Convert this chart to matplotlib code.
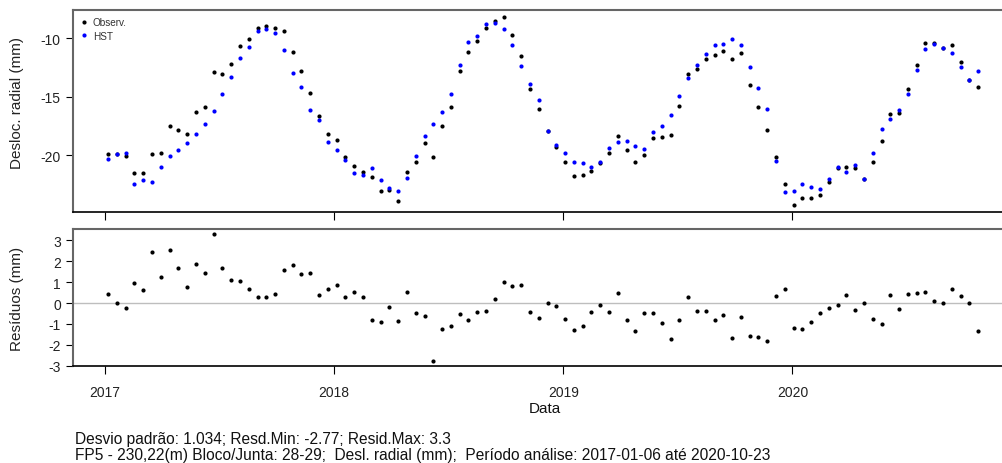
import numpy as np
import pandas as pd
import matplotlib
matplotlib.use('Agg')
from matplotlib import pyplot as plt
import matplotlib.dates as mdates

plt.rcParams['font.family'] = ['Liberation Sans', 'DejaVu Sans']
plt.rcParams['axes.unicode_minus'] = False

# biweekly readings, 2017-01-06 .. 2020-10-23
dates = pd.date_range('2017-01-06', '2020-10-23', freq='14D')

observ = [-19.86, -19.85, -20.03, -21.54, -21.54, -19.86, -19.77, -17.49, -17.83, -18.18,
          -16.32, -15.90, -12.88, -13.08, -12.22, -10.63, -10.06, -9.09, -8.92, -9.09,
          -9.37, -11.14, -12.80, -14.65, -16.60, -18.18, -18.66, -20.11, -20.94, -21.42,
          -21.88, -23.05, -22.95, -23.91, -21.44, -20.55, -18.93, -20.12, -17.52, -15.84,
          -12.82, -11.14, -10.23, -9.12, -8.52, -8.21, -9.72, -11.48, -14.33, -16.01,
          -17.94, -19.27, -20.55, -21.80, -21.71, -21.37, -20.68, -19.78, -18.36, -19.53,
          -20.55, -19.95, -18.53, -18.45, -18.27, -15.76, -13.08, -12.65, -11.74, -11.40,
          -11.06, -11.74, -11.23, -13.99, -15.85, -17.84, -20.12, -22.45, -24.22, -23.62,
          -23.62, -23.36, -22.31, -21.11, -21.03, -21.11, -22.03, -20.55, -18.75, -16.50,
          -16.41, -14.33, -12.23, -10.40, -10.38, -10.78, -10.57, -12.05, -13.54, -14.16]

hst = [-20.28, -19.86, -19.77, -22.48, -22.14, -22.28, -21.03, -20.03, -19.52, -18.95,
       -18.18, -17.35, -16.18, -14.78, -13.33, -11.70, -10.75, -9.38, -9.21, -9.53,
       -10.97, -12.94, -14.18, -16.11, -16.97, -18.86, -19.52, -20.39, -21.46, -21.69,
       -21.05, -22.14, -22.78, -23.04, -21.97, -20.05, -18.30, -17.35, -16.30, -14.74,
       -12.29, -10.32, -9.82, -8.73, -8.71, -9.23, -10.54, -12.35, -13.89, -15.28,
       -17.92, -19.12, -19.80, -20.53, -20.63, -20.96, -20.60, -19.37, -18.83, -18.73,
       -19.21, -19.45, -18.03, -17.49, -16.55, -14.94, -13.39, -12.25, -11.35, -10.58,
       -10.49, -10.08, -10.54, -12.43, -14.22, -16.02, -20.47, -23.10, -23.04, -22.40,
       -22.70, -22.89, -22.05, -21.01, -21.40, -20.79, -22.01, -19.80, -17.76, -16.87,
       -16.12, -14.77, -12.69, -10.92, -10.49, -10.80, -11.24, -12.40, -13.56, -12.80]

residuos = np.array(observ) - np.array(hst)

caption1 = 'Desvio padrão: 1.034; Resd.Min: -2.77; Resid.Max: 3.3'
caption2 = ('FP5 - 230,22(m) Bloco/Junta: 28-29;  Desl. radial (mm);  '
            'Período análise: 2017-01-06 até 2020-10-23')

W, H = 1003, 464
fig = plt.figure(figsize=(W/100, H/100), dpi=100)

def px(x0, y0, x1, y1):
    return [x0/W, 1 - y1/H, (x1-x0)/W, (y1-y0)/H]

ax1 = fig.add_axes(px(73.3, 11, 1013, 213.3))
ax2 = fig.add_axes(px(73.3, 230, 1013, 367), sharex=ax1)

ax1.plot(dates, observ, 'o', color='black', ms=3.0, mew=0, label='Observ.')
ax1.plot(dates, hst, 'o', color='#0000ff', ms=3.0, mew=0, label='HST')
ax1.margins(0.04)
ax1.set_yticks([-10, -15, -20])
leg = ax1.legend(loc='upper left', frameon=False, fontsize=7.2, handlelength=0.6,
                 handletextpad=0.6, labelspacing=0.3, borderaxespad=0.45,
                 borderpad=0.3)
for t in leg.get_texts():
    t.set_color('#333333')

ax2.axhline(0, color='#bebebe', lw=1)
ax2.plot(dates, residuos, 'o', color='black', ms=3.0, mew=0)
ax2.margins(0.04)
ax2.set_yticks([3, 2, 1, 0, -1, -2, -3])

for ax in (ax1, ax2):
    for s in ('left', 'top', 'right'):
        ax.spines[s].set_color('#666666')
        ax.spines[s].set_linewidth(1.5)
    ax.spines['bottom'].set_color('black')
    ax.spines['bottom'].set_linewidth(1.2)
    ax.tick_params(axis='y', direction='out', length=5, width=0.8,
                   labelsize=10, labelcolor='#222222', pad=4)
    ax.tick_params(axis='x', direction='out', length=6, width=0.8,
                   labelsize=10, labelcolor='#222222', pad=8)

ax2.xaxis.set_major_locator(mdates.YearLocator())
ax2.xaxis.set_major_formatter(mdates.DateFormatter('%Y'))
ax1.tick_params(axis='x', labelbottom=False)

fig.text(17/W, 1 - 103/H, 'Desloc. radial (mm)', rotation=90, ha='center',
         va='center', fontsize=11, color='#222222')
fig.text(17/W, 1 - 299/H, 'Resíduos (mm)', rotation=90, ha='center',
         va='center', fontsize=11, color='#222222')
fig.text(545/W, 1 - 409/H, 'Data', ha='center', va='center', fontsize=11,
         color='#111111')
fig.text(75/W, 1 - 440/H, caption1, ha='left', va='center', fontsize=11.2,
         color='#111111')
fig.text(75/W, 1 - 456/H, caption2, ha='left', va='center', fontsize=11.2,
         color='#111111')

fig.savefig('out.png', dpi=100)
